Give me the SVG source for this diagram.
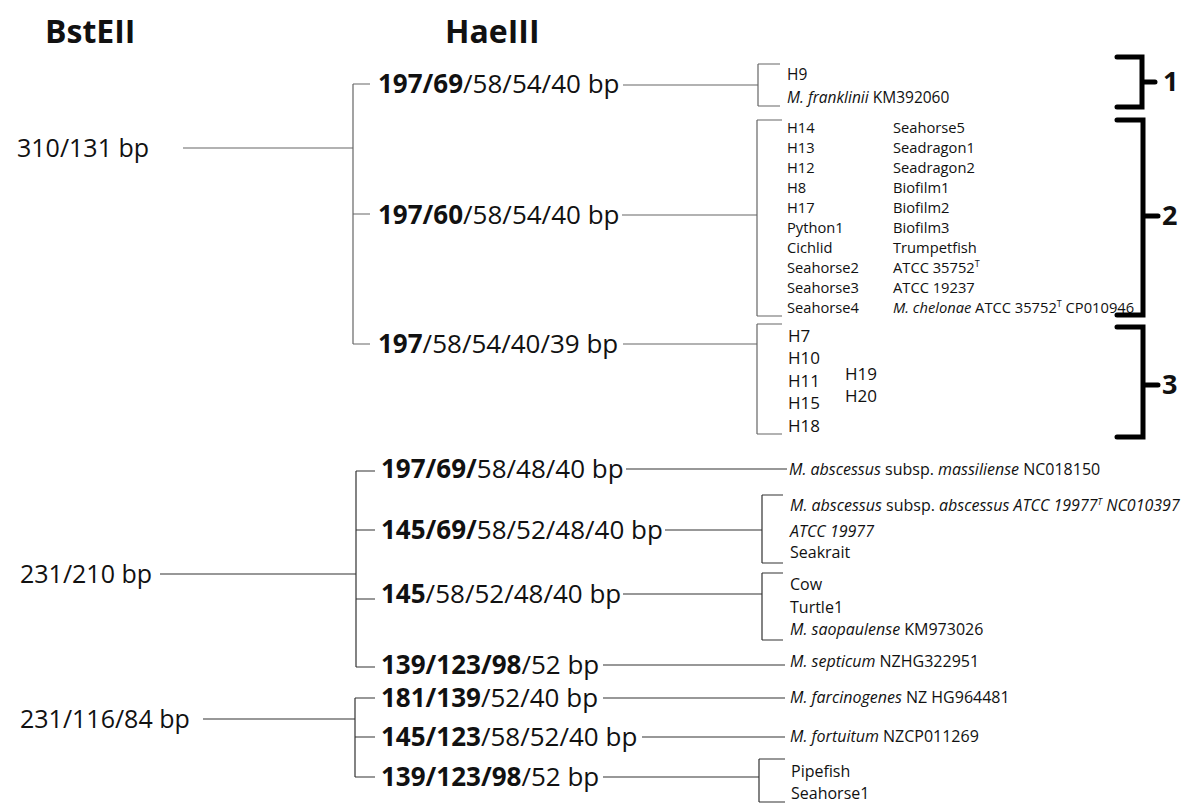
<svg xmlns="http://www.w3.org/2000/svg" width="1202" height="803" viewBox="0 0 1202 803">
<style>
text{font-family:"Open Sans","Noto Sans","Liberation Sans",sans-serif;fill:#111}
.hdr{font-size:32px;font-weight:bold}
.bst{font-size:25px}
.hae{font-size:26px}
.b{font-weight:bold}
.i{font-style:italic}
.g2{font-size:14.7px}
.g1{font-size:15.5px}
.g3{font-size:17px}
.rt{font-size:16px}
.num{font-size:27px;font-weight:bold}
.ln{fill:none;stroke:#666;stroke-width:1.2}
.lnd{fill:none;stroke:#333;stroke-width:1.2}
.thick{fill:none;stroke:#000;stroke-width:5;stroke-linecap:round;stroke-linejoin:miter}
</style>
<rect width="1202" height="803" fill="#fff"/>
<g id="headers">
<text class="hdr" x="45" y="43">BstEII</text>
<text class="hdr" x="445" y="43">HaeIII</text>
</g>
<g id="connectors">
<path class="ln" d="M183,148H353M353,84V344M353,84H370M353,214H370M353,344H370"/>
<path class="ln" d="M623,85H758M758,64V106M758,64H780M758,106H780M622,215H757M757,120V316M757,120H782M757,316H782M623,344H757M757,324V434M757,324H782M757,434H782"/>
<path class="lnd" d="M160,574H356M356,471V667M356,471H375M356,530H375M356,599H375M356,667H375"/>
<path class="lnd" d="M626,469H787M665,530H762M762,495V563M762,495H783M762,563H783M623,594H762M762,573V640M762,573H783M762,640H783M603,665H785"/>
<path class="lnd" d="M203,719H355M355,698V777M355,698H375M355,737H375M355,777H375M603,698H785M642,737H785M603,777H759M759,759V802M759,759H785M759,802H785"/>
</g>
<g id="bstA"><text class="bst" x="17" y="157">310/131 bp</text></g>
<g id="bstB"><text class="bst" x="20" y="583">231/210 bp</text></g>
<g id="bstC"><text class="bst" x="20" y="728">231/116/84 bp</text></g>
<g id="hae1"><text class="hae" x="378" y="93"><tspan class="b">197/69</tspan>/58/54/40 bp</text></g>
<g id="hae2"><text class="hae" x="378" y="224"><tspan class="b">197/60</tspan>/58/54/40 bp</text></g>
<g id="hae3"><text class="hae" x="378" y="353"><tspan class="b">197</tspan>/58/54/40/39 bp</text></g>
<g id="hae4"><text class="hae" x="381" y="478"><tspan class="b">197/69/</tspan>58/48/40 bp</text></g>
<g id="hae5"><text class="hae" x="381" y="539"><tspan class="b">145/69/</tspan>58/52/48/40 bp</text></g>
<g id="hae6"><text class="hae" x="381" y="603"><tspan class="b">145</tspan>/58/52/48/40 bp</text></g>
<g id="hae7"><text class="hae" x="381" y="674"><tspan class="b">139/123/98</tspan>/52 bp</text></g>
<g id="hae8"><text class="hae" x="381" y="707"><tspan class="b">181/139</tspan>/52/40 bp</text></g>
<g id="hae9"><text class="hae" x="381" y="746"><tspan class="b">145/123</tspan>/58/52/40 bp</text></g>
<g id="hae10"><text class="hae" x="381" y="786"><tspan class="b">139/123/98</tspan>/52 bp</text></g>
<g id="group1">
<text class="g1" x="787" y="80">H9</text>
<text class="g1" x="787" y="103"><tspan class="i">M. franklinii</tspan> KM392060</text>
</g>
<g id="group2">
<text class="g2" x="787" y="133">H14</text>
<text class="g2" x="787" y="153">H13</text>
<text class="g2" x="787" y="173">H12</text>
<text class="g2" x="787" y="193">H8</text>
<text class="g2" x="787" y="213">H17</text>
<text class="g2" x="787" y="233">Python1</text>
<text class="g2" x="787" y="253">Cichlid</text>
<text class="g2" x="787" y="273">Seahorse2</text>
<text class="g2" x="787" y="293">Seahorse3</text>
<text class="g2" x="787" y="313">Seahorse4</text>
<text class="g2" x="893" y="133">Seahorse5</text>
<text class="g2" x="893" y="153">Seadragon1</text>
<text class="g2" x="893" y="173">Seadragon2</text>
<text class="g2" x="893" y="193">Biofilm1</text>
<text class="g2" x="893" y="213">Biofilm2</text>
<text class="g2" x="893" y="233">Biofilm3</text>
<text class="g2" x="893" y="253">Trumpetfish</text>
<text class="g2" x="893" y="273">ATCC 35752<tspan font-size="9" dy="-6">T</tspan></text>
<text class="g2" x="893" y="293">ATCC 19237</text>
<text class="g2" x="893" y="313"><tspan class="i">M. chelonae</tspan> ATCC 35752<tspan font-size="9" dy="-6">T</tspan><tspan dy="6"> CP010946</tspan></text>
</g>
<g id="group3">
<text class="g3" x="788" y="342">H7</text>
<text class="g3" x="788" y="364">H10</text>
<text class="g3" x="788" y="387">H11</text>
<text class="g3" x="788" y="409">H15</text>
<text class="g3" x="788" y="432">H18</text>
<text class="g3" x="845" y="380">H19</text>
<text class="g3" x="845" y="402">H20</text>
</g>
<g id="group4"><text class="rt" x="789" y="475"><tspan class="i">M. abscessus</tspan> subsp. <tspan class="i">massiliense</tspan> NC018150</text></g>
<g id="group5">
<text class="rt" x="790" y="511"><tspan class="i">M. abscessus</tspan> subsp. <tspan class="i">abscessus ATCC 19977<tspan font-size="9" dy="-6">T</tspan><tspan dy="6"> NC010397</tspan></tspan></text>
<text class="rt i" x="790" y="537">ATCC 19977</text>
<text class="rt" x="790" y="558">Seakrait</text>
</g>
<g id="group6">
<text class="rt" x="790" y="590">Cow</text>
<text class="rt" x="790" y="613">Turtle1</text>
<text class="rt" x="790" y="635"><tspan class="i">M. saopaulense</tspan> KM973026</text>
</g>
<g id="group7"><text class="rt" x="790" y="667"><tspan class="i">M. septicum</tspan> NZHG322951</text></g>
<g id="group8"><text class="rt" x="790" y="703"><tspan class="i">M. farcinogenes</tspan> NZ HG964481</text></g>
<g id="group9"><text class="rt" x="790" y="742"><tspan class="i">M. fortuitum</tspan> NZCP011269</text></g>
<g id="group10">
<text class="rt" x="791" y="777">Pipefish</text>
<text class="rt" x="791" y="799">Seahorse1</text>
</g>
<g id="cluster1">
<path class="thick" d="M1117,57H1142V107H1117M1142,82H1155"/>
<text class="num" x="1163" y="91">1</text>
</g>
<g id="cluster2">
<path class="thick" d="M1117,120H1143V315H1117M1143,216H1158"/>
<text class="num" x="1162" y="225">2</text>
</g>
<g id="cluster3">
<path class="thick" d="M1117,327H1143V437H1117M1143,385H1158"/>
<text class="num" x="1162" y="394">3</text>
</g>
</svg>
